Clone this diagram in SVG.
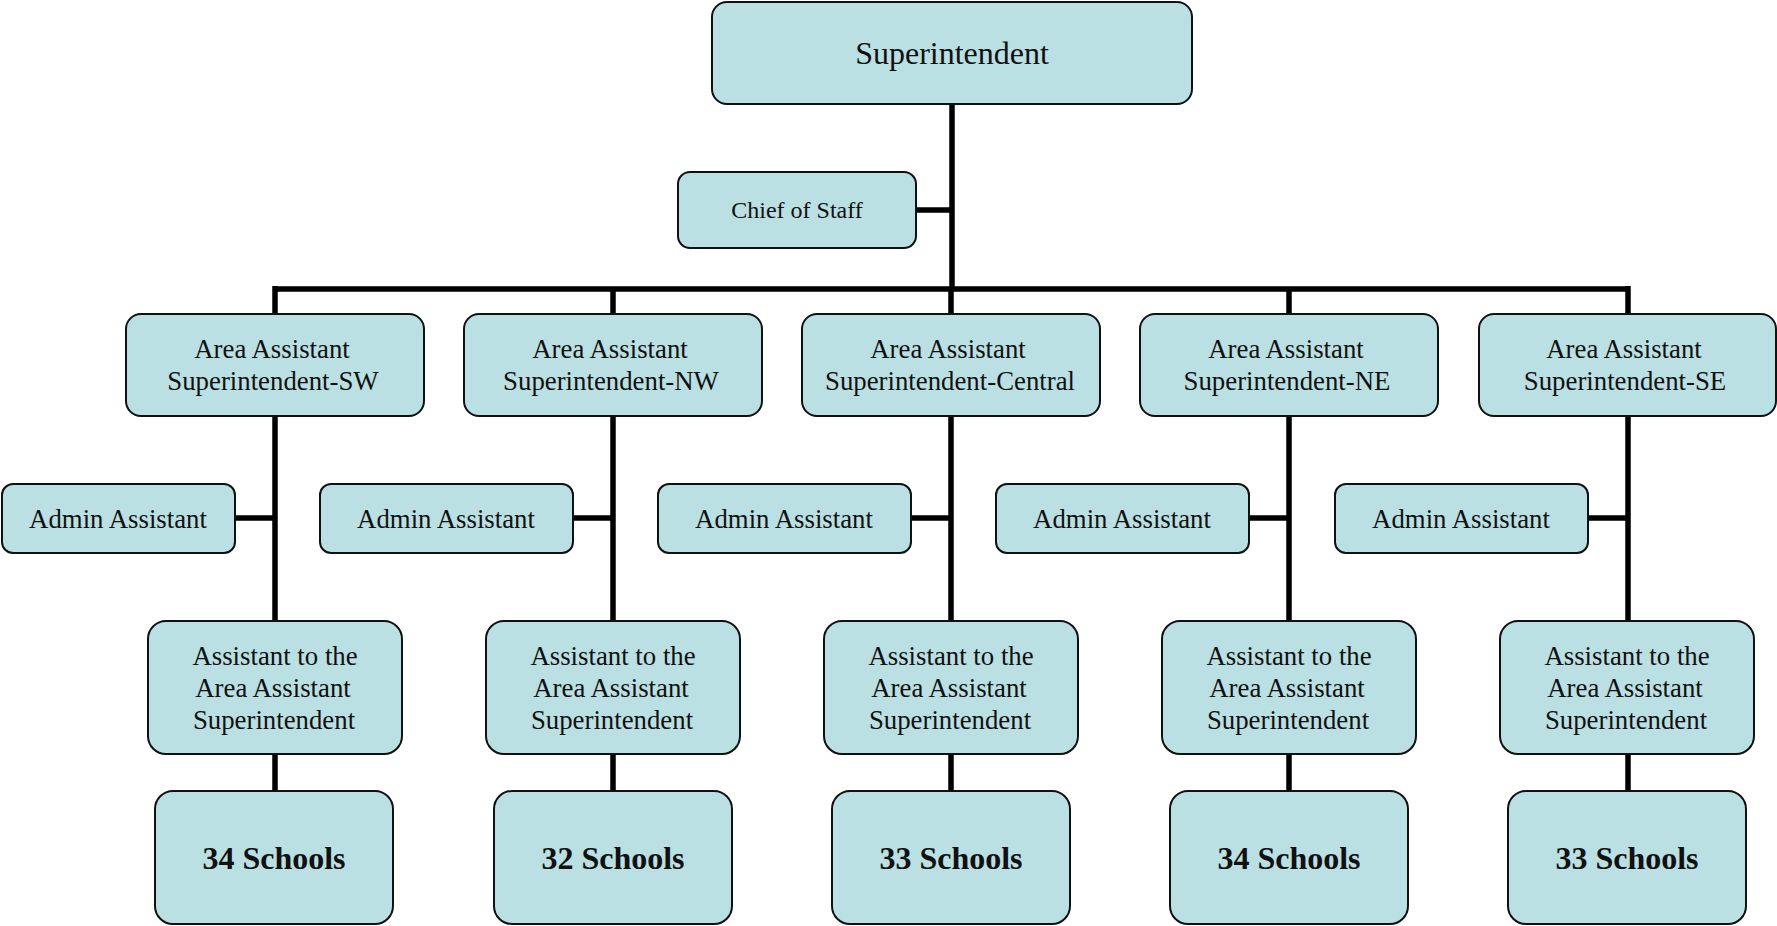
<svg xmlns="http://www.w3.org/2000/svg" width="1777" height="926" viewBox="0 0 1777 926">
<style>
.box{fill:#BAE0E3;stroke:#111;stroke-width:2}
.t{font-family:"Liberation Serif","Times New Roman",serif;fill:#111;text-anchor:middle}
.n{font-size:26.8px}
.s{font-size:32px;font-weight:bold}
.c{fill:none;stroke:#000;stroke-width:5.5}
</style>
<rect width="1777" height="926" fill="#fff"/>
<g id="connectors">
<path class="c" d="M952 104V289M916 210H952M275 289H1628M275 286V314M613 289V314M951 289V314M1289 289V314M1628 286V314"/>
<path class="c" d="M275 416V621M235 518H275M275 754V791"/>
<path class="c" d="M613 416V621M573 518H613M613 754V791"/>
<path class="c" d="M951 416V621M911 518H951M951 754V791"/>
<path class="c" d="M1289 416V621M1249 518H1289M1289 754V791"/>
<path class="c" d="M1628 416V621M1588 518H1628M1628 754V791"/>
</g>
<g id="superintendent"><rect class="box" x="712" y="2" width="480" height="102" rx="15"/><text class="t" x="952" y="64" font-size="32">Superintendent</text></g>
<g id="chief-of-staff"><rect class="box" x="678" y="172" width="238" height="76" rx="12"/><text class="t" x="797" y="218" font-size="24">Chief of Staff</text></g>

<g id="area-sw"><rect class="box" x="126" y="314" width="298" height="102" rx="15"/><text class="t n" x="272" y="358">Area Assistant</text><text class="t n" x="273" y="390">Superintendent-SW</text></g>
<g id="area-nw"><rect class="box" x="464" y="314" width="298" height="102" rx="15"/><text class="t n" x="610" y="358">Area Assistant</text><text class="t n" x="611" y="390">Superintendent-NW</text></g>
<g id="area-central"><rect class="box" x="802" y="314" width="298" height="102" rx="15"/><text class="t n" x="948" y="358">Area Assistant</text><text class="t n" x="950" y="390">Superintendent-Central</text></g>
<g id="area-ne"><rect class="box" x="1140" y="314" width="298" height="102" rx="15"/><text class="t n" x="1286" y="358">Area Assistant</text><text class="t n" x="1287" y="390">Superintendent-NE</text></g>
<g id="area-se"><rect class="box" x="1479" y="314" width="297" height="102" rx="15"/><text class="t n" x="1624" y="358">Area Assistant</text><text class="t n" x="1625" y="390">Superintendent-SE</text></g>

<g id="admin-sw"><rect class="box" x="2" y="484" width="233" height="69" rx="11"/><text class="t n" x="118" y="528">Admin Assistant</text></g>
<g id="admin-nw"><rect class="box" x="320" y="484" width="253" height="69" rx="11"/><text class="t n" x="446" y="528">Admin Assistant</text></g>
<g id="admin-central"><rect class="box" x="658" y="484" width="253" height="69" rx="11"/><text class="t n" x="784" y="528">Admin Assistant</text></g>
<g id="admin-ne"><rect class="box" x="996" y="484" width="253" height="69" rx="11"/><text class="t n" x="1122" y="528">Admin Assistant</text></g>
<g id="admin-se"><rect class="box" x="1335" y="484" width="253" height="69" rx="11"/><text class="t n" x="1461" y="528">Admin Assistant</text></g>

<g id="asst-sw"><rect class="box" x="148" y="621" width="254" height="133" rx="18"/><text class="t n" x="275" y="665">Assistant to the</text><text class="t n" x="273" y="697">Area Assistant</text><text class="t n" x="274" y="729">Superintendent</text></g>
<g id="asst-nw"><rect class="box" x="486" y="621" width="254" height="133" rx="18"/><text class="t n" x="613" y="665">Assistant to the</text><text class="t n" x="611" y="697">Area Assistant</text><text class="t n" x="612" y="729">Superintendent</text></g>
<g id="asst-central"><rect class="box" x="824" y="621" width="254" height="133" rx="18"/><text class="t n" x="951" y="665">Assistant to the</text><text class="t n" x="949" y="697">Area Assistant</text><text class="t n" x="950" y="729">Superintendent</text></g>
<g id="asst-ne"><rect class="box" x="1162" y="621" width="254" height="133" rx="18"/><text class="t n" x="1289" y="665">Assistant to the</text><text class="t n" x="1287" y="697">Area Assistant</text><text class="t n" x="1288" y="729">Superintendent</text></g>
<g id="asst-se"><rect class="box" x="1500" y="621" width="254" height="133" rx="18"/><text class="t n" x="1627" y="665">Assistant to the</text><text class="t n" x="1625" y="697">Area Assistant</text><text class="t n" x="1626" y="729">Superintendent</text></g>

<g id="schools-sw"><rect class="box" x="155" y="791" width="238" height="133" rx="18"/><text class="t s" x="274" y="869">34 Schools</text></g>
<g id="schools-nw"><rect class="box" x="494" y="791" width="238" height="133" rx="18"/><text class="t s" x="613" y="869">32 Schools</text></g>
<g id="schools-central"><rect class="box" x="832" y="791" width="238" height="133" rx="18"/><text class="t s" x="951" y="869">33 Schools</text></g>
<g id="schools-ne"><rect class="box" x="1170" y="791" width="238" height="133" rx="18"/><text class="t s" x="1289" y="869">34 Schools</text></g>
<g id="schools-se"><rect class="box" x="1508" y="791" width="238" height="133" rx="18"/><text class="t s" x="1627" y="869">33 Schools</text></g>
</svg>
